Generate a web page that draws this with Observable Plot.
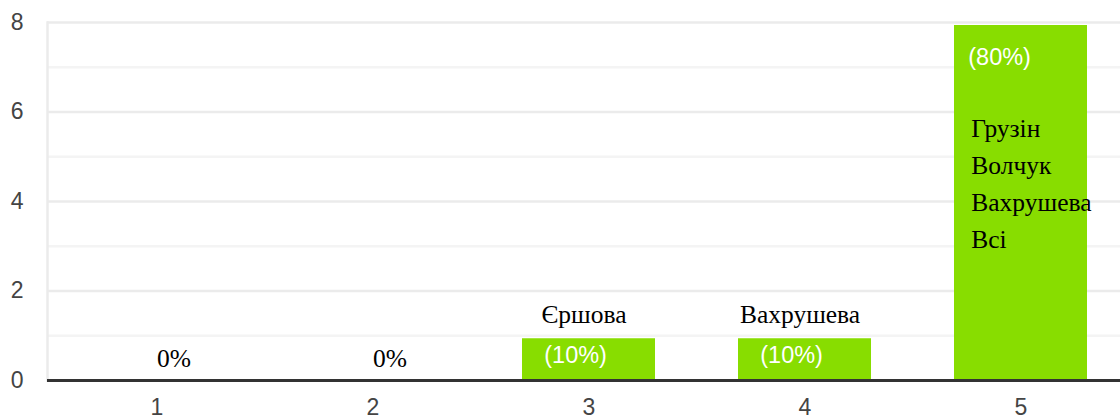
<!DOCTYPE html>
<html>
<head>
<meta charset="utf-8">
<script src="https://cdn.jsdelivr.net/npm/d3@7"></script>
<script src="https://cdn.jsdelivr.net/npm/@observablehq/plot@0.6"></script>
<style>
  html, body { margin: 0; padding: 0; background: #fff; }
  #chart svg { display: block; }
</style>
</head>
<body>
<div id="chart"></div>
<script>
// Data
const categories = ["1", "2", "3", "4", "5"];
const counts = [0, 0, 1, 1, 8];
const percentLabels = ["0%", "0%", "(10%)", "(10%)", "(80%)"];
const voterNames = [[], [], ["Єршова"], ["Вахрушева"], ["Грузін", "Волчук", "Вахрушева", "Всі"]];
const yTicks = [0, 2, 4, 6, 8];
const yMinorTicks = [1, 3, 5, 7];

const rows = categories.map((c, i) => ({
  cat: c, count: counts[i], pct: percentLabels[i], names: voterNames[i]
}));
const zeroRows = rows.filter(d => d.count === 0);
const shortRows = rows.filter(d => d.count > 0 && d.count < 4);
const tallRows = rows.filter(d => d.count >= 4);

const step = 216.5, bw = 133.5;
const sans = "'Liberation Sans', Arial, sans-serif";
const serif = "'Liberation Serif', 'Times New Roman', serif";

const chart = Plot.plot({
  width: 1120,
  height: 416,
  marginLeft: 47,
  marginRight: 0,
  marginTop: 22,
  marginBottom: 36,
  style: { fontFamily: sans, background: "#fff" },
  x: {
    type: "band",
    domain: categories,
    range: [47.5, 47.5 + 5 * step],
    paddingInner: 1 - bw / step,
    paddingOuter: (1 - bw / step) / 2,
    label: null
  },
  y: { domain: [0, 8], label: null },
  marks: [
    Plot.ruleY(yMinorTicks, { stroke: "#f4f4f4", strokeWidth: 2.5 }),
    Plot.ruleY(yTicks.filter(d => d > 0), { stroke: "#ebebeb", strokeWidth: 2.5 }),
    Plot.frame({ anchor: "left", stroke: "#ebebeb", strokeWidth: 2.5 }),
    Plot.barY(rows, { x: "cat", y: "count", fill: "#88dd00", insetTop: 3 }),
    Plot.ruleY([0], { stroke: "#333333", strokeWidth: 3 }),
    Plot.axisY(yTicks, {
      tickSize: 0, tickPadding: 24, fontSize: 23, fill: "#444", label: null
    }),
    Plot.axisX({
      tickSize: 0, tickPadding: 18, fontSize: 23, fill: "#444", label: null
    }),
    // zero labels
    Plot.text(zeroRows, {
      x: "cat", y: "count", text: "pct", dx: 17, dy: -14, lineAnchor: "bottom",
      fontFamily: serif, fontSize: 25.5, fill: "#000"
    }),
    // names above short bars
    Plot.text(shortRows, {
      x: "cat", y: "count", text: d => d.names.join("\n"), dx: -5, dy: -13,
      lineAnchor: "bottom", fontFamily: serif, fontSize: 25.5, fill: "#000"
    }),
    // percentages inside short bars
    Plot.text(shortRows, {
      x: "cat", y: "count", text: "pct", textAnchor: "start",
      dx: -bw / 2 + 22, dy: 27, lineAnchor: "bottom",
      fontFamily: sans, fontSize: 23.5, fill: "#fff"
    }),
    // percentages inside tall bars
    Plot.text(tallRows, {
      x: "cat", y: "count", text: "pct", textAnchor: "start",
      dx: -bw / 2 + 14, dy: 42, lineAnchor: "bottom",
      fontFamily: sans, fontSize: 23.5, fill: "#fff"
    }),
    // names inside tall bars
    Plot.text(tallRows, {
      x: "cat", y: "count", text: d => d.names.join("\n"), textAnchor: "start",
      dx: -bw / 2 + 17, dy: 88, lineAnchor: "top", lineHeight: 37 / 25.5,
      fontFamily: serif, fontSize: 25.5, fill: "#000"
    })
  ]
});
document.getElementById("chart").appendChild(chart);
</script>
</body>
</html>
